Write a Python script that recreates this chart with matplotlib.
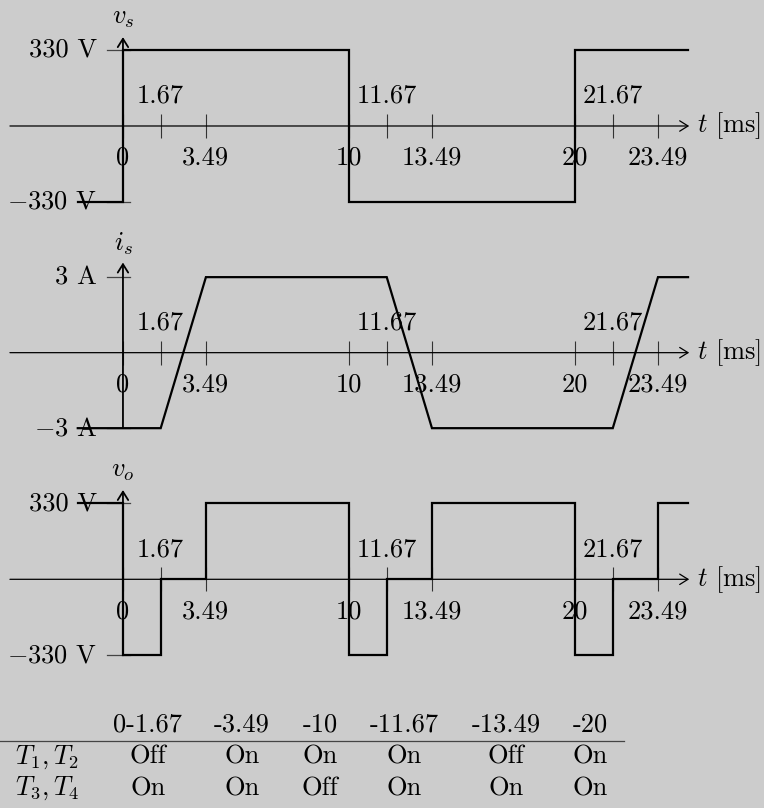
import matplotlib
matplotlib.use("Agg")
import matplotlib.pyplot as plt
from matplotlib.lines import Line2D

plt.rcParams['font.family'] = 'serif'
plt.rcParams['font.serif'] = ['cmr10']
plt.rcParams['mathtext.fontset'] = 'cm'
plt.rcParams['axes.unicode_minus'] = False

# waveform data (t in ms)
vs_t = [-2, 0, 0, 10, 10, 20, 20, 25]
vs_v = [-330, -330, 330, 330, -330, -330, 330, 330]

is_t = [-2, 1.67, 3.67, 11.67, 13.67, 21.67, 23.67, 25]
is_a = [-3, -3, 3, 3, -3, -3, 3, 3]

vo_t = [-2, 0, 0, 1.67, 1.67, 3.67, 3.67, 10, 10, 11.67, 11.67, 13.67, 13.67,
        20, 20, 21.67, 21.67, 23.67, 23.67, 25]
vo_v = [330, 330, -330, -330, 0, 0, 330, 330, -330, -330, 0, 0, 330, 330,
        -330, -330, 0, 0, 330, 330]

tick_pos = [0, 1.67, 3.67, 10, 11.67, 13.67, 20, 21.67, 23.67]
tick_lab = ["0", "1.67", "3.49", "10", "11.67", "13.49", "20", "21.67", "23.49"]
tick_up = [False, True, False, False, True, False, False, True, False]

# switching table
col_heads = ["0-1.67", "-3.49", "-10", "-11.67", "-13.49", "-20"]
row_names = [r"$T_1, T_2$", r"$T_3, T_4$"]
t12_state = ["Off", "On", "On", "On", "Off", "On"]
t34_state = ["On", "On", "Off", "On", "On", "On"]

W, H = 764, 808
BG = '#cccccc'
FS = 19

fig = plt.figure(figsize=(W / 100, H / 100), dpi=100, facecolor=BG)


def panel(top, bottom, ylim, t, y, yname, ylabs, ytop):
    ax = fig.add_axes([0, 1 - bottom / H, 1, (bottom - top) / H])
    ax.set_facecolor('none')
    ax.set_xlim(-5.44, 28.36)
    ax.set_ylim(*ylim)
    for s in ax.spines.values():
        s.set_visible(False)
    ax.spines['bottom'].set_position(('data', 0))
    ax.set_xticks(tick_pos, labels=[])
    ax.set_yticks([])
    ax.tick_params(axis='x', direction='inout', length=17.3, width=0.8,
                   color='#333333')

    # axes with arrows
    ax.annotate('', xy=(25.05, 0), xytext=(-5, 0),
                arrowprops=dict(arrowstyle='->,head_length=0.4,head_width=0.25',
                                lw=0.9, color='black', mutation_scale=15,
                                shrinkA=0, shrinkB=0))
    ax.annotate('', xy=(0, ytop), xytext=(0, ylabs[1][0]),
                arrowprops=dict(arrowstyle='->,head_length=0.4,head_width=0.25',
                                lw=1.3, color='black', mutation_scale=15,
                                shrinkA=0, shrinkB=0))
    ax.annotate(yname, (0, ytop), xytext=(0, 19), textcoords='offset pixels',
                ha='center', va='center', fontsize=FS)
    ax.annotate(r"$t$ [ms]", (25, 0), xytext=(9, 0), textcoords='offset pixels',
                ha='left', va='center', fontsize=FS)

    for lv, txt in ylabs:
        ax.plot([-0.71, 0.31], [lv, lv], color='#444444', lw=0.9, zorder=2)
        ax.annotate(txt, (0, lv), xytext=(-26, 0), textcoords='offset pixels',
                    ha='right', va='center', fontsize=FS)

    for p, lab, up in zip(tick_pos, tick_lab, tick_up):
        ax.annotate(lab, (p, 0), xytext=(0, 30 if up else -32),
                    textcoords='offset pixels', ha='center', va='center',
                    fontsize=FS)

    ax.plot(t, y, color='black', lw=1.6, zorder=3, solid_joinstyle='miter')
    return ax


panel(0, 220, (-408.2, 547.1), vs_t, vs_v, r"$v_s$",
      [(330, "330 V"), (-330, r"$-$330 V")], 386)
panel(220, 440, (-3.47, 5.27), is_t, is_a, r"$i_s$",
      [(3, "3 A"), (-3, r"$-$3 A")], 3.58)
panel(440, 700, (-524.1, 604.9), vo_t, vo_v, r"$v_o$",
      [(330, "330 V"), (-330, r"$-$330 V")], 387.8)

# table
col_x = [148, 242, 320, 404, 506, 590]
for x, h, a, b in zip(col_x, col_heads, t12_state, t34_state):
    fig.text(x / W, 1 - 732 / H, h, ha='center', va='baseline', fontsize=FS)
    fig.text(x / W, 1 - 763.5 / H, a, ha='center', va='baseline', fontsize=FS)
    fig.text(x / W, 1 - 795 / H, b, ha='center', va='baseline', fontsize=FS)
for yb, name in zip([763.5, 795], row_names):
    fig.text(15 / W, 1 - yb / H, name, ha='left', va='baseline', fontsize=FS)
fig.add_artist(Line2D([0, 624 / W], [1 - 741 / H] * 2, color='#444444', lw=0.9))

fig.savefig("out.png", dpi=100, facecolor=BG)
